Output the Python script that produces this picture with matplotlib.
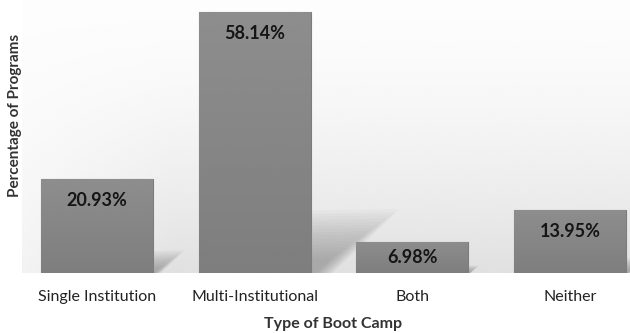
import numpy as np
import matplotlib.pyplot as plt
from matplotlib.patches import Polygon

categories = ['Single Institution', 'Multi-Institutional', 'Both', 'Neither']
values = [20.93, 58.14, 6.98, 13.95]
labels = ['20.93%', '58.14%', '6.98%', '13.95%']

plt.rcParams['font.family'] = ['Lato', 'DejaVu Sans']

fig = plt.figure(figsize=(6.3, 3.33), dpi=100)
ax = fig.add_axes([22 / 630, 60 / 333, 608 / 630, 273 / 333])

x = np.arange(len(categories))
xlim = (-0.476, 3.38)
ylim = (0, 60.8)

# soft grey backdrop, lighter at the top and to the left
gy = np.linspace(1, 0, 200)[:, None]
gx = np.linspace(0, 1, 300)[None, :]
shade = 0.99 - 0.11 * (1 - gy) ** 1.6 * (0.35 + 0.65 * np.clip(gx * 4, 0, 1))
ax.imshow(shade, cmap='gray', vmin=0, vmax=1, extent=(*xlim, *ylim),
          aspect='auto', zorder=0, interpolation='bicubic')

w = 0.71
# diagonal drop shadows to the right of each bar
for xi, v in zip(x, values):
    right = xi + w / 2
    reach = v * 0.0097
    top = v * 0.24
    n = 16
    for k in range(n):
        s = 1 - k * 0.05
        poly = Polygon([(right, 0), (right, top * s), (right + reach * s, top * s * 1.02),
                        (right + reach * 0.25 * s, 0)],
                       closed=True, facecolor='#6f6f6f', edgecolor='none',
                       alpha=0.035, zorder=1)
        ax.add_patch(poly)

bars = ax.bar(x, values, width=w, color='#898989', edgecolor='#7c7c7c',
              linewidth=0.8, zorder=2)

# vertical gradient on each bar
grad = np.linspace(0.555, 0.495, 100)[:, None]
for b in bars:
    bx = b.get_x()
    im = ax.imshow(grad, cmap='gray', vmin=0, vmax=1, aspect='auto',
                   extent=(bx, bx + b.get_width(), 0, b.get_height()),
                   zorder=2.5, interpolation='bicubic')
    im.set_clip_path(b)

# labels sit near the top of the bar, or mid-bar when the bar is short
for xi, v, lab in zip(x, values, labels):
    ax.text(xi, v - min(4.7, v / 2), lab, ha='center', va='center',
            fontsize=13, fontweight='bold', color='#151515', zorder=3)

ax.set_xlim(*xlim)
ax.set_ylim(*ylim)
ax.set_xticks(x)
ax.set_xticklabels(categories, fontsize=11.5, color='#222222')
ax.tick_params(axis='x', length=0, pad=12)
ax.set_yticks([])
for sp in ax.spines.values():
    sp.set_visible(False)

fig.text(333 / 630, 1 - 324 / 333, 'Type of Boot Camp', ha='center', va='center',
         fontsize=11.5, fontweight='bold', color='#333333')
fig.text(15 / 630, 1 - 115 / 333, 'Percentage of Programs', ha='center', va='center',
         rotation=90, fontsize=11, fontweight='bold', color='#333333')

fig.savefig('out.png', dpi=100, facecolor='white')
